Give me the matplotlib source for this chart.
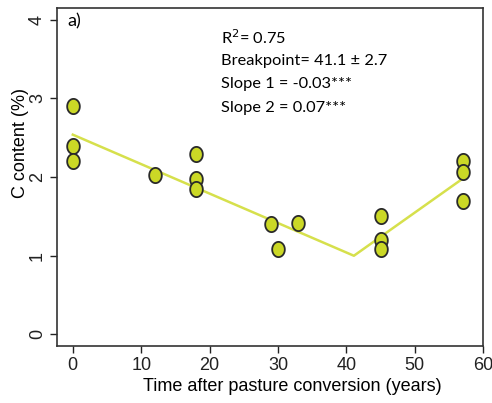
import numpy as np
import matplotlib.pyplot as plt
from matplotlib.path import Path

plt.rcParams['font.family'] = ['Liberation Sans', 'DejaVu Sans']

# soil C content vs years since pasture conversion
years = [0, 0, 0, 12, 18, 18, 18, 29, 30, 33, 45, 45, 45, 57, 57, 57]
c_content = [2.9, 2.4, 2.2, 2.03, 2.3, 1.97, 1.85, 1.4, 1.08, 1.42, 1.5, 1.2, 1.08, 2.2, 2.07, 1.7]

# piecewise fit: start, breakpoint, end
fit_x = [0, 41.1, 57]
fit_y = [2.54, 1.0, 1.98]

stats = ["R$^2$= 0.75", "Breakpoint= 41.1 \u00b1 2.7", "Slope 1 = -0.03***", "Slope 2 = 0.07***"]

# slightly narrow ellipse for the points
t = np.linspace(0, 2 * np.pi, 60)
oval = Path(np.column_stack([0.83 * np.cos(t), np.sin(t)]), closed=True)

fig = plt.figure(figsize=(4.92, 4.03), dpi=100)
ax = fig.add_axes([0.116, 0.141, 0.866, 0.839])

ax.plot(fit_x, fit_y, color="#d6e04c", lw=1.8, zorder=2)
ax.scatter(years, c_content, s=120, marker=oval, color="#cbd826", edgecolor="#2a2a2a", linewidth=1.3, zorder=3)

ax.set_xlim(-2.3, 60)
ax.set_ylim(-0.15, 4.15)
ax.set_xticks([0, 10, 20, 30, 40, 50, 60])
ax.set_yticks([0, 1, 2, 3, 4])
ax.tick_params(direction="out", length=5, width=1, labelsize=13, colors="#222222", pad=3)
for lab in ax.get_yticklabels():
    lab.set_rotation(90)
    lab.set_va("center")
for sp in ax.spines.values():
    sp.set_color("#333333")
    sp.set_linewidth(1.2)

ax.set_xlabel("Time after pasture conversion (years)", fontsize=13)
ax.xaxis.set_label_coords(0.553, -0.095)
ax.set_ylabel("C content (%)", fontsize=13)
ax.yaxis.set_label_coords(-0.066, 0.6)

ax.text(0.025, 0.985, "a)", transform=ax.transAxes, fontsize=13, va="top", family="Lato")
for i, s in enumerate(stats):
    ax.text(0.385, 0.912 - i * 0.069, s, transform=ax.transAxes, fontsize=11.8, va="center", family="Lato")

fig.savefig("out.png", dpi=100)
